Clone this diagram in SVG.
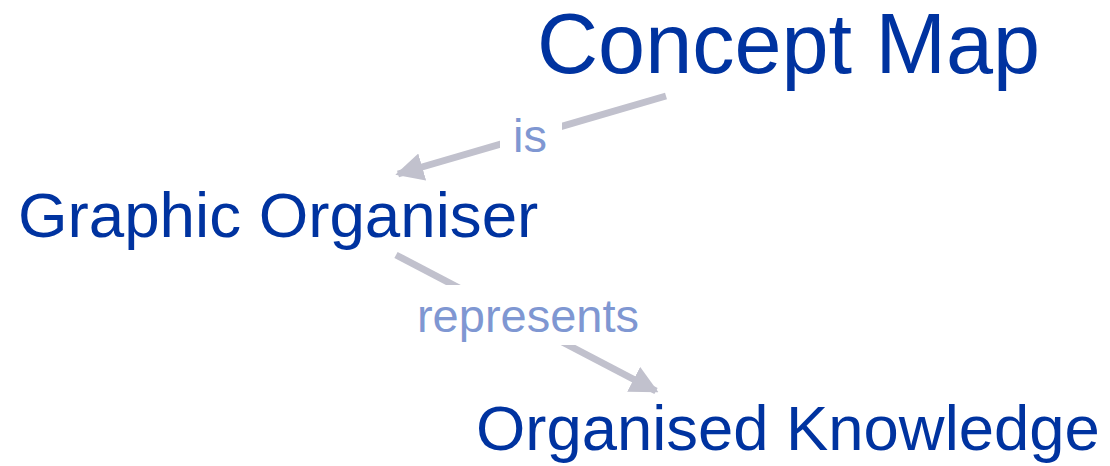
<svg xmlns="http://www.w3.org/2000/svg" width="1110" height="466" viewBox="0 0 1110 466">
<style>
.node{font-family:"Liberation Sans",Arial,sans-serif;fill:#0033a0}
.lbl{font-family:"Liberation Sans",Arial,sans-serif;fill:#7f97d2;font-size:47px;text-anchor:middle}
.edge{stroke:#c1c1cd;stroke-width:7;fill:none}
</style>
<defs>
<marker id="ah" viewBox="0 0 10 10" refX="9" refY="5" markerWidth="4" markerHeight="4" markerUnits="strokeWidth" orient="auto">
<path d="M0,0 L10,5 L0,10 z" fill="#c1c1cd"/>
</marker>
</defs>
<rect width="1110" height="466" fill="#fff"/>
<g id="connectors">
<line class="edge" x1="666" y1="96" x2="398" y2="174" marker-end="url(#ah)"/>
<line class="edge" x1="396" y1="255" x2="656" y2="391" marker-end="url(#ah)"/>
<rect x="500" y="105" width="62" height="60" fill="#fff"/>
<text class="lbl" x="530" y="152">is</text>
<rect x="412" y="285" width="234" height="60" fill="#fff"/>
<text class="lbl" x="528" y="332">represents</text>
</g>
<g id="concept-map"><text class="node" x="537" y="73" font-size="84.6">Concept Map</text></g>
<g id="graphic-organiser"><text class="node" x="18" y="237" font-size="63.7">Graphic Organiser</text></g>
<g id="organised-knowledge"><text class="node" x="476" y="450" font-size="63.4">Organised Knowledge</text></g>
</svg>
